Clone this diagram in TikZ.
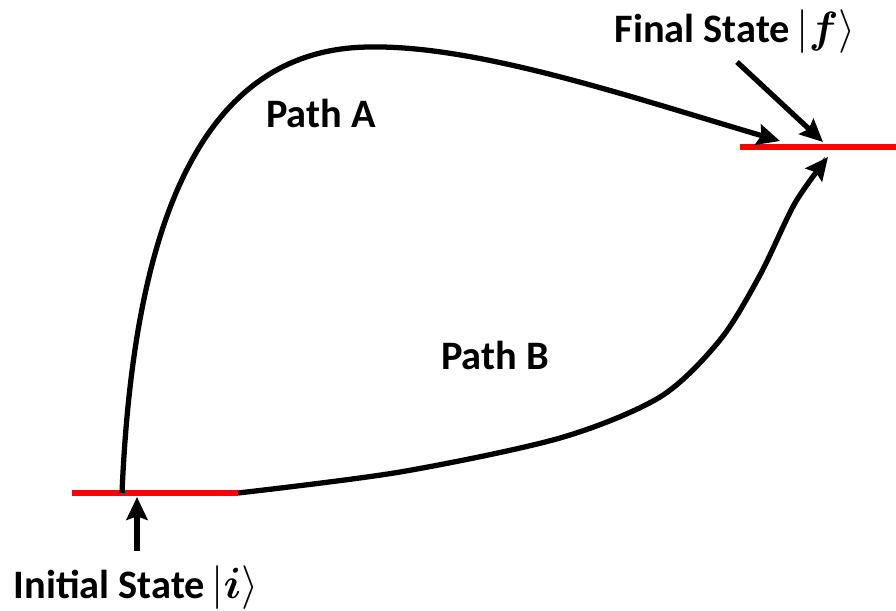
\documentclass[tikz,border=0pt]{standalone}
\usepackage{bm}
\usepackage{fontspec}
\setmainfont{Carlito}
\usetikzlibrary{arrows.meta}
\definecolor{levelred}{RGB}{255,0,0}

\begin{document}
\begin{tikzpicture}[x=0.02cm, y=-0.02cm,
lvl/.style={draw=levelred, line width=3.4pt},
pth/.style={draw=black, line width=3pt, -{Stealth[length=13pt, width=12pt, inset=2pt]}},
ptr/.style={draw=black, line width=3pt, -{Stealth[length=13pt, width=12pt, inset=2pt]}},
lbl/.style={font=\fontsize{23}{27}\selectfont\bfseries}
]
\useasboundingbox (0,0) rectangle (896,610);

% energy levels
\coordinate (iL) at (72,493);
\coordinate (iR) at (238,493);
\coordinate (fL) at (740,147);
\coordinate (fR) at (896,147);
\draw[lvl] (iL) -- (iR);
\draw[lvl] (fL) -- (fR);

% path end points
\coordinate (aS) at (122,493);
\coordinate (aT) at (370,47);
\coordinate (aE) at (780,141);
\coordinate (bE) at (828,157);

\draw[pth] (aS) .. controls (132,260) and (185,48) .. (aT)
  .. controls (480,45) and (640,100) .. (aE);
\draw[pth] plot[smooth, tension=0.5] coordinates
  {(iR) (400,472) (560,438) (660,397) (720,340) (760,275) (795,203) (bE)};

\node[lbl] (pA) at (321,113) {Path A};
\node[lbl] (pB) at (495,355) {Path B};

% state labels
\node[lbl] (fin) at (735,32) {Final State\,$\vert\bm{f}\rangle$};
\node[lbl] (ini) at (136,588) {Initial State\,$\vert\bm{i}\rangle$};
\coordinate (fFrom) at (737,62);
\coordinate (fTo) at (823,142);
\coordinate (iFrom) at (137,551);
\coordinate (iTo) at (137,497);
\draw[ptr] (fFrom) -- (fTo);
\draw[ptr] (iFrom) -- (iTo);
\end{tikzpicture}
\end{document}
